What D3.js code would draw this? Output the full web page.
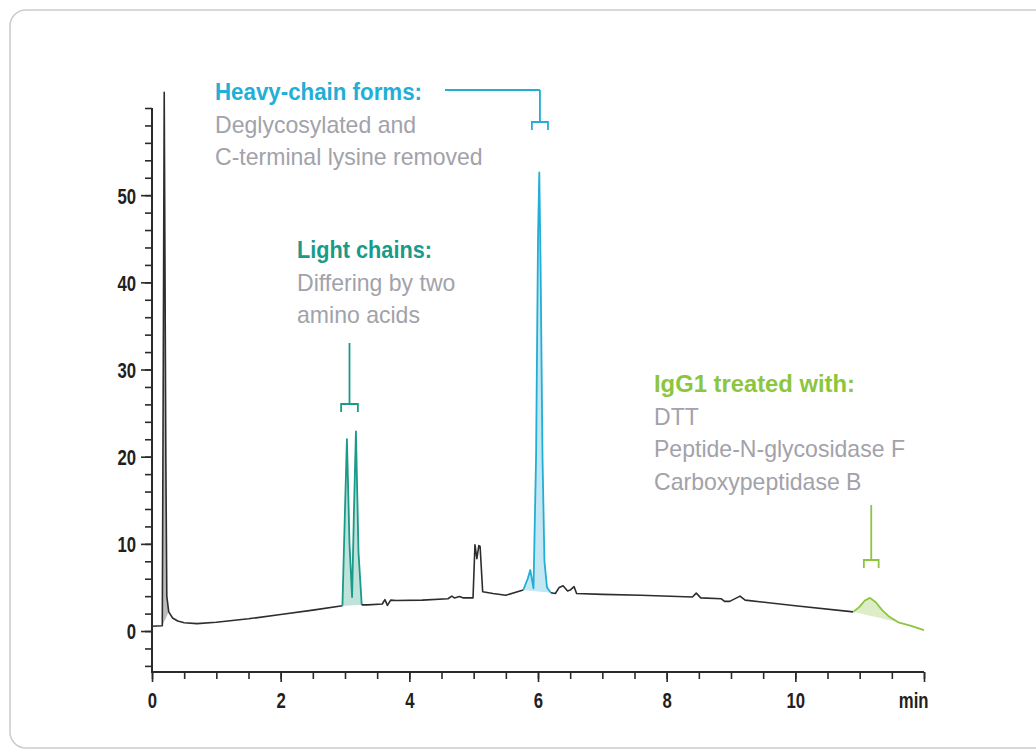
<!DOCTYPE html>
<html>
<head>
<meta charset="utf-8">
<script src="https://cdn.jsdelivr.net/npm/d3@7/dist/d3.min.js"></script>
<style>
  html, body { margin: 0; padding: 0; background: #ffffff; }
  svg { display: block; }
  text { font-family: "Liberation Sans", Arial, sans-serif; }
</style>
</head>
<body>
<svg id="chart" width="1036" height="754"></svg>
<script>
// Chromatogram of reduced, deglycosylated IgG1 (retention time in min, detector signal)
const retentionTime = [
  0.00, 0.16, 0.175, 0.19, 0.215, 0.23, 0.26, 0.32, 0.40, 0.50, 0.70, 1.00, 1.50, 2.00, 2.50,
  2.96, 3.00, 3.03, 3.07, 3.11, 3.14, 3.17, 3.21, 3.26,
  3.35, 3.58, 3.62, 3.66, 3.71, 3.80, 4.20, 4.60, 4.66, 4.70, 4.78, 4.84, 4.99,
  5.02, 5.05, 5.08, 5.10, 5.14, 5.30, 5.50,
  5.77, 5.84, 5.88, 5.93, 5.97, 6.00, 6.02, 6.04, 6.07, 6.10, 6.14, 6.20,
  6.27, 6.33, 6.39, 6.46, 6.50, 6.56, 6.60, 7.00, 7.60, 8.40, 8.46, 8.53,
  8.85, 8.90, 8.98, 9.14, 9.22, 10.00,
  10.90, 11.00, 11.08, 11.16, 11.25, 11.35, 11.45, 11.60, 11.80, 12.00
];
const signal = [
  0.55, 0.60, 30.0, 61.8, 20.0, 4.0, 2.2, 1.5, 1.15, 0.95, 0.85, 1.0, 1.4, 1.9, 2.4,
  2.9, 14.0, 22.0, 10.0, 3.9, 14.0, 22.9, 9.0, 3.0,
  3.0, 3.1, 3.6, 2.95, 3.55, 3.5, 3.55, 3.7, 4.0, 3.8, 3.95, 3.8, 3.8,
  9.9, 8.3, 9.8, 9.7, 4.5, 4.3, 4.1,
  4.7, 6.0, 7.0, 4.9, 20.0, 45.0, 52.6, 42.0, 20.0, 8.0, 5.0, 4.4,
  4.3, 5.0, 5.2, 4.6, 4.7, 5.1, 4.3, 4.2, 4.1, 3.9, 4.35, 3.8,
  3.7, 3.4, 3.4, 4.0, 3.55, 2.9,
  2.2, 2.8, 3.5, 3.8, 3.3, 2.4, 1.7, 1.0, 0.6, 0.1
];

// Highlighted regions of the trace: [start, end] of the coloured stroke and of the shaded area
const regionNames   = ["injection", "light", "heavy", "igg1"];
const strokeStart   = [null, 2.96, 5.77, 10.90];
const strokeEnd     = [null, 3.26, 6.20, 12.00];
const fillStart     = [0.16, 2.96, 5.77, 10.90];
const fillEnd       = [0.26, 3.26, 6.20, 11.60];

// Axis ticks
const xMinorTicks = d3.range(0, 12.01, 0.5);
const xMajorTicks = [0, 2, 4, 6, 8, 10, 12];
const xTickLabels = ["0", "2", "4", "6", "8", "10", "min"];
const yMinorTicks = d3.range(-4, 60.01, 2);
const yMajorTicks = [0, 10, 20, 30, 40, 50];
const yTickLabels = ["0", "10", "20", "30", "40", "50"];

// Annotation texts
const heavyLines = ["Heavy-chain forms:", "Deglycosylated and", "C-terminal lysine removed"];
const lightLines = ["Light chains:", "Differing by two", "amino acids"];
const iggLines   = ["IgG1 treated with:", "DTT", "Peptide-N-glycosidase F", "Carboxypeptidase B"];
// Peak marker brackets: centre time and half-width (min)
const bracketCenter = [3.07, 6.03, 11.18];
const bracketHalf   = [0.13, 0.125, 0.115];

// ---- styling ----
const colors = {
  trace: "#2d2d2d",
  injectionFill: "#bdbdbd",
  light: "#1a9a88", lightFill: "#bfe2da",
  heavy: "#22aed6", heavyFill: "#c3e7f3",
  igg1: "#8cc63f", igg1Fill: "#dcedc8",
  note: "#a2a2aa",
  axis: "#2a2a2a"
};

const svg = d3.select("#chart");

// outer frame
svg.append("rect")
  .attr("x", 10).attr("y", 10)
  .attr("width", 1050).attr("height", 738)
  .attr("rx", 16).attr("ry", 16)
  .attr("fill", "none")
  .attr("stroke", "#cdcdcd")
  .attr("stroke-width", 1.6);

const x = d3.scaleLinear().domain([0, 12]).range([152, 924]);
const y = d3.scaleLinear().domain([-4.7, 60]).range([672, 108]);

// Condense a text horizontally by a factor (narrow typeface look)
function condense(sel, factor) {
  sel.each(function () {
    const w = this.getComputedTextLength();
    d3.select(this).attr("textLength", w * factor).attr("lengthAdjust", "spacingAndGlyphs");
  });
}

// ---- axes ----
const gAxes = svg.append("g");

// y axis line
gAxes.append("line")
  .attr("x1", x(0)).attr("x2", x(0))
  .attr("y1", y(60)).attr("y2", y.range()[0])
  .attr("stroke", colors.axis).attr("stroke-width", 2);
// x axis line
gAxes.append("line")
  .attr("x1", x(0) - 1).attr("x2", x(12))
  .attr("y1", y.range()[0]).attr("y2", y.range()[0])
  .attr("stroke", colors.axis).attr("stroke-width", 2);

const yAxisMinor = d3.axisLeft(y).tickValues(yMinorTicks).tickSize(7).tickFormat("").tickSizeOuter(0);
const yAxisMajor = d3.axisLeft(y).tickValues(yMajorTicks).tickSize(11).tickPadding(5)
  .tickFormat((d, i) => yTickLabels[i]).tickSizeOuter(0);
const xAxisMinor = d3.axisBottom(x).tickValues(xMinorTicks).tickSize(7).tickFormat("").tickSizeOuter(0);
const xAxisMajor = d3.axisBottom(x).tickValues(xMajorTicks).tickSize(10).tickPadding(9)
  .tickFormat((d, i) => xTickLabels[i]).tickSizeOuter(0);

function styleAxis(g) {
  g.select(".domain").remove();
  g.selectAll(".tick line").attr("stroke", colors.axis).attr("stroke-width", 1.6);
  g.selectAll(".tick text")
    .attr("fill", "#231f20")
    .style("font-size", "22px")
    .style("font-weight", "bold");
}

gAxes.append("g").attr("transform", `translate(${x(0)},0)`).call(yAxisMinor).call(styleAxis);
const gy = gAxes.append("g").attr("transform", `translate(${x(0)},0)`).call(yAxisMajor).call(styleAxis);
gAxes.append("g").attr("transform", `translate(0,${y.range()[0]})`).call(xAxisMinor).call(styleAxis);
const gx = gAxes.append("g").attr("transform", `translate(0,${y.range()[0]})`).call(xAxisMajor).call(styleAxis);
gy.selectAll(".tick text").attr("dy", "0.36em").call(condense, 0.76);
gx.selectAll(".tick text").attr("dy", "0.78em").call(condense, 0.76);
// the unit label sits flush with the axis end
gx.selectAll(".tick text").filter((d, i) => xTickLabels[i] === "min")
  .attr("text-anchor", "end").attr("x", 4);

// ---- trace ----
const pts = retentionTime.map((t, i) => ({ t, v: signal[i] }));
const line = d3.line().x(d => x(d.t)).y(d => y(d.v));
const between = (a, b) => pts.filter(p => p.t >= a - 1e-9 && p.t <= b + 1e-9);

const gTrace = svg.append("g");

// shaded peak areas: between the trace and the chord joining the region ends
const fillColors = [colors.injectionFill, colors.lightFill, colors.heavyFill, colors.igg1Fill];
regionNames.forEach((name, i) => {
  const seg = between(fillStart[i], fillEnd[i]);
  const first = seg[0], last = seg[seg.length - 1];
  const base = t => first.v + (last.v - first.v) * (t - first.t) / (last.t - first.t);
  const area = d3.area().x(d => x(d.t)).y0(d => y(base(d.t))).y1(d => y(d.v));
  gTrace.append("path")
    .attr("class", "fill-" + name)
    .attr("d", area(seg))
    .attr("fill", fillColors[i])
    .attr("stroke", "none");
});

// dark trace everywhere except coloured regions
const strokeColors = [null, colors.light, colors.heavy, colors.igg1];
const cuts = [];
regionNames.forEach((n, i) => { if (strokeStart[i] !== null) cuts.push([strokeStart[i], strokeEnd[i], strokeColors[i]]); });
let prev = 0;
cuts.forEach(([a, b, c]) => {
  gTrace.append("path").attr("d", line(between(prev, a)))
    .attr("fill", "none").attr("stroke", colors.trace).attr("stroke-width", 1.6).attr("stroke-linejoin", "round");
  gTrace.append("path").attr("d", line(between(a, b)))
    .attr("fill", "none").attr("stroke", c).attr("stroke-width", 1.8).attr("stroke-linejoin", "round");
  prev = b;
});
if (prev < 12) {
  gTrace.append("path").attr("d", line(between(prev, 12)))
    .attr("fill", "none").attr("stroke", colors.trace).attr("stroke-width", 1.6);
}

// ---- annotations ----
const gNotes = svg.append("g");

// each block: its heading is set to a fixed width, body lines are condensed slightly
function textBlock(lines, left, top, titleColor, titleWidth) {
  const g = gNotes.append("g");
  lines.forEach((s, i) => {
    const t = g.append("text")
      .attr("x", left).attr("y", top + i * 32.5)
      .attr("fill", i === 0 ? titleColor : colors.note)
      .style("font-size", "24px")
      .style("font-weight", i === 0 ? "bold" : "normal")
      .text(s);
    if (i === 0) t.attr("textLength", titleWidth).attr("lengthAdjust", "spacingAndGlyphs");
    else t.call(condense, 0.96);
  });
}
textBlock(heavyLines, 215, 100, colors.heavy, 207);
textBlock(lightLines, 297, 258, colors.light, 135);
textBlock(iggLines, 654, 392, colors.igg1, 201);

function bracket(i, color, legBottomPx, topPx, extraPath) {
  const c = x(bracketCenter[i]);
  const l = x(bracketCenter[i] - bracketHalf[i]);
  const r = x(bracketCenter[i] + bracketHalf[i]);
  const barY = legBottomPx - 8;
  const p = d3.path();
  p.moveTo(l, legBottomPx); p.lineTo(l, barY); p.lineTo(r, barY); p.lineTo(r, legBottomPx);
  p.moveTo(c, barY); p.lineTo(c, topPx);
  if (extraPath) extraPath(p, c, topPx);
  gNotes.append("path").attr("d", p.toString())
    .attr("fill", "none").attr("stroke", color).attr("stroke-width", 1.8);
}
bracket(0, colors.light, 412, 343);
bracket(1, colors.heavy, 130, 90, (p, c, top) => { p.moveTo(c, top); p.lineTo(445, top); });
bracket(2, colors.igg1, 568, 505);
</script>
</body>
</html>
